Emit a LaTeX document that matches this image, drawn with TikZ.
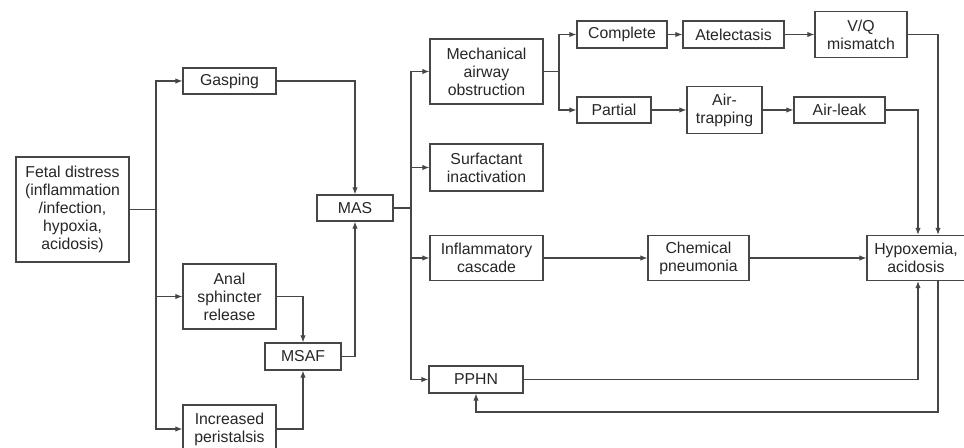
\documentclass[tikz,border=0pt]{standalone}
\usepackage{fontspec}
\setmainfont{Liberation Sans}
\usetikzlibrary{arrows.meta}
\definecolor{dgray}{RGB}{70,70,70}
\tikzset{
      box/.style={draw=dgray, line width=0.6pt, align=center, inner sep=1pt,
            font=\fontsize{9}{10.3}\selectfont, text=black!85},
      link/.style={draw=dgray, line width=0.6pt},
      arr/.style={draw=dgray, line width=0.6pt, -{Latex[length=4pt,width=3pt]}},
}
\begin{document}
\begin{tikzpicture}[x=0.02cm, y=-0.02cm]

        \useasboundingbox (0,0) rectangle (964,448) ;

        % left column
        \node[box, minimum width=2.26cm, minimum height=2.1cm] (fetal) at (72.5,209.5)
              {Fetal distress\\(inflammation\\/infection,\\hypoxia,\\acidosis)} ;
        \node[box, minimum width=1.86cm, minimum height=0.52cm] (gasp) at (229.5,81) {Gasping} ;
        \node[box, minimum width=1.86cm, minimum height=1.3cm] (anal) at (229.5,296.5) {Anal\\sphincter\\release} ;
        \node[box, minimum width=1.86cm, minimum height=0.96cm] (incr) at (229.5,429) {Increased\\peristalsis} ;
        \node[box, minimum width=1.52cm, minimum height=0.54cm] (msaf) at (303,356.5) {MSAF} ;
        \node[box, minimum width=1.52cm, minimum height=0.52cm] (mas) at (355,208) {MAS} ;

        % middle column
        \node[box, minimum width=2.26cm, minimum height=1.3cm] (mech) at (486.5,71.5) {Mechanical\\airway\\obstruction} ;
        \node[box, minimum width=2.26cm, minimum height=0.94cm] (surf) at (486.5,167.5) {Surfactant\\inactivation} ;
        \node[box, minimum width=2.26cm, minimum height=0.9cm] (infl) at (486.5,258) {Inflammatory\\cascade} ;
        \node[box, minimum width=1.88cm, minimum height=0.54cm] (pphn) at (476,379.5) {PPHN} ;

        % right part
        \node[box, minimum width=1.8cm, minimum height=0.54cm] (compl) at (622,34.5) {Complete} ;
        \node[box, minimum width=2.02cm, minimum height=0.54cm] (atel) at (733.5,34.5) {Atelectasis} ;
        \node[box, minimum width=1.84cm, minimum height=0.92cm] (vq) at (861,34.5) {V/Q\\mismatch} ;
        \node[box, minimum width=1.48cm, minimum height=0.52cm] (part) at (614,110) {Partial} ;
        \node[box, minimum width=1.5cm, minimum height=0.94cm] (airt) at (724.5,110) {Air-\\trapping} ;
        \node[box, minimum width=1.82cm, minimum height=0.52cm] (leak) at (839.5,110) {Air-leak} ;
        \node[box, minimum width=2.02cm, minimum height=0.9cm] (chem) at (698.5,258) {Chemical\\pneumonia} ;
        \node[box, minimum width=1.96cm, minimum height=0.9cm] (hypox) at (916,258) {Hypoxemia,\\acidosis} ;

        % connectors
        \coordinate (fj) at (156,209.5) ;
        \draw[link] (fetal) -- (fj) ;
        \draw[arr] (fj) |- (gasp) ;
        \draw[arr] (fj) |- (anal) ;
        \draw[arr] (fj) |- (incr) ;

        \draw[arr] (gasp) -| (mas) ;
        \draw[arr] (anal) -| (msaf) ;
        \draw[arr] (incr) -| (msaf) ;
        \draw[arr] (msaf) -| (mas) ;

        \coordinate (mj) at (411,208) ;
        \draw[link] (mas) -- (mj) ;
        \draw[arr] (mj) |- (mech) ;
        \draw[arr] (mj) |- (surf) ;
        \draw[arr] (mj) |- (infl) ;
        \draw[arr] (mj) |- (pphn) ;

        \coordinate (oj) at (559,71.5) ;
        \draw[link] (mech) -- (oj) ;
        \draw[arr] (oj) |- (compl) ;
        \draw[arr] (oj) |- (part) ;

        \draw[arr] (compl) -- (atel) ;
        \draw[arr] (atel) -- (vq) ;
        \draw[arr] (part) -- (airt) ;
        \draw[arr] (airt) -- (leak) ;
        \draw[arr] (infl) -- (chem) ;
        \draw[arr] (chem) -- (hypox) ;

        \draw[arr] (vq) -| ([xshift=0.44cm]hypox.north) ;
        \draw[arr] (leak) -| ([xshift=0.04cm]hypox.north) ;
        \draw[arr] (pphn) -| ([xshift=0.04cm]hypox.south) ;
        \draw[arr] ([xshift=0.44cm]hypox.south) -- ++(0,131) -| (pphn) ;

    \end{tikzpicture}
\end{document}
